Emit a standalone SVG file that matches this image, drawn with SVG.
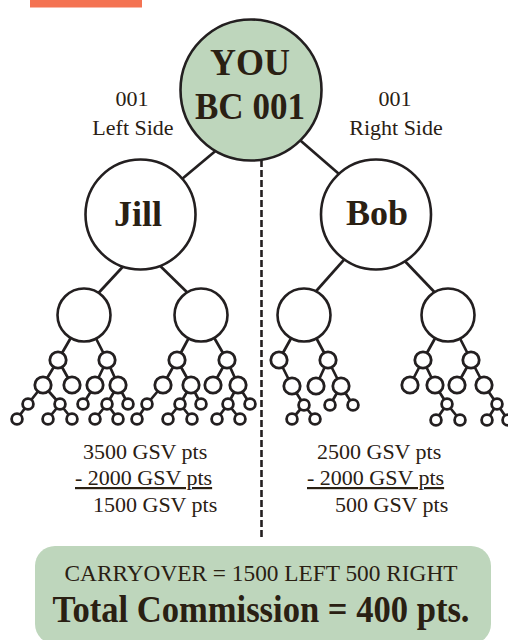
<svg xmlns="http://www.w3.org/2000/svg" width="508" height="640" viewBox="0 0 508 640">
<style>
.ln{stroke:#231f20;stroke-width:2.7;fill:none;stroke-linecap:butt}
.dash{stroke:#231f20;stroke-width:2.6;stroke-dasharray:7 3;fill:none}
.c{fill:#fff;stroke:#231f20;stroke-width:2.6}
.g{fill:#bed6bc;stroke:#231f20;stroke-width:2.6}
.s{fill:#fff;stroke:#231f20;stroke-width:2.8}
.t{font-family:"Liberation Serif","Times New Roman",serif;fill:#2a2013}
.lab{font-size:22px;text-anchor:middle}
.big{font-size:38px;font-weight:bold;text-anchor:middle}
.nm{font-size:36px;font-weight:bold;text-anchor:middle}
.num{font-size:22px}
.ul{text-decoration:underline}
</style>
<rect x="30" y="-20" width="112" height="27.5" fill="#f47352"/>

<g id="connectors">
<line class="ln" x1="225" y1="143" x2="170" y2="189"/>
<line class="ln" x1="290" y1="131.5" x2="350" y2="183.5"/>
<line class="dash" x1="261.5" y1="160" x2="261.5" y2="540"/>
<line class="ln" x1="130" y1="259" x2="92" y2="300"/>
<line class="ln" x1="150" y1="256" x2="195" y2="300"/>
<line class="ln" x1="350" y1="253" x2="310" y2="298"/>
<line class="ln" x1="400" y1="256" x2="442" y2="300"/>
<path class="ln" d="M84 315L58 360M84 315L107 360M58 360L43 385M58 360L72 385M43 385L28 404M43 385L60 404M28 404L17 419M60 404L48 419M60 404L72 419M107 360L95 385M107 360L118 385M95 385L83 404M118 385L107 404M118 385L128 404M107 404L95 419M107 404L118 419"/>
<path class="ln" d="M201 315L177 360M201 315L227 360M177 360L163 385M177 360L191 385M163 385L147 404M147 404L137 419M191 385L180 404M191 385L201 404M180 404L168 419M180 404L192 419M227 360L213 385M227 360L238 385M238 385L228 404M238 385L250 404M228 404L217 419M228 404L240 419"/>
<path class="ln" d="M304 315L279 360M304 315L328 360M279 360L292 386M292 386L304 405M304 405L292 419M304 405L315 419M328 360L316 386M328 360L341 386M341 386L330 405M341 386L353 405"/>
<path class="ln" d="M448 315L423 360M448 315L471 360M423 360L410 385M423 360L435 385M435 385L447 404M447 404L436 420M447 404L460 420M471 360L457 385M471 360L484 385M484 385L497 404M497 404L487 420M497 404L508 420"/>
</g>

<g id="you"><circle class="g" cx="251" cy="90" r="70.5"/>
<text class="t big" x="250" y="75" textLength="80" lengthAdjust="spacingAndGlyphs">YOU</text>
<text class="t big" x="250" y="119" textLength="110" lengthAdjust="spacingAndGlyphs">BC 001</text></g>

<g id="left-label"><text class="t lab" x="132" y="106">001</text><text class="t lab" x="133" y="134.5">Left Side</text></g>
<g id="right-label"><text class="t lab" x="395" y="106">001</text><text class="t lab" x="396" y="134.5">Right Side</text></g>

<g id="jill"><circle class="c" cx="140.5" cy="214.5" r="55"/><text class="t nm" x="138" y="226">Jill</text></g>
<g id="bob"><circle class="c" cx="376" cy="214.5" r="55"/><text class="t nm" x="377" y="225">Bob</text></g>

<g id="jill-left">
<circle class="c" cx="84" cy="315" r="26.5"/>
<circle class="s" cx="58" cy="360" r="8.2"/><circle class="s" cx="107" cy="360" r="8.2"/>
<circle class="s" cx="43" cy="385" r="8.2"/><circle class="s" cx="72" cy="385" r="8.2"/><circle class="s" cx="95" cy="385" r="8.2"/><circle class="s" cx="118" cy="385" r="8.2"/>
<circle class="s" cx="28" cy="404" r="5.4"/><circle class="s" cx="60" cy="404" r="5.4"/><circle class="s" cx="83" cy="404" r="5.4"/><circle class="s" cx="107" cy="404" r="5.4"/><circle class="s" cx="128" cy="404" r="5.4"/>
<circle class="s" cx="17" cy="419" r="5.4"/><circle class="s" cx="48" cy="419" r="5.4"/><circle class="s" cx="72" cy="419" r="5.4"/><circle class="s" cx="95" cy="419" r="5.4"/><circle class="s" cx="118" cy="419" r="5.4"/>
</g>
<g id="jill-right">
<circle class="c" cx="201" cy="315" r="26.5"/>
<circle class="s" cx="177" cy="360" r="8.2"/><circle class="s" cx="227" cy="360" r="8.2"/>
<circle class="s" cx="163" cy="385" r="8.2"/><circle class="s" cx="191" cy="385" r="8.2"/><circle class="s" cx="213" cy="385" r="8.2"/><circle class="s" cx="238" cy="385" r="8.2"/>
<circle class="s" cx="147" cy="404" r="5.4"/><circle class="s" cx="180" cy="404" r="5.4"/><circle class="s" cx="201" cy="404" r="5.4"/><circle class="s" cx="228" cy="404" r="5.4"/><circle class="s" cx="250" cy="404" r="5.4"/>
<circle class="s" cx="137" cy="419" r="5.4"/><circle class="s" cx="168" cy="419" r="5.4"/><circle class="s" cx="192" cy="419" r="5.4"/><circle class="s" cx="217" cy="419" r="5.4"/><circle class="s" cx="240" cy="419" r="5.4"/>
</g>
<g id="bob-left">
<circle class="c" cx="304" cy="315" r="26.5"/>
<circle class="s" cx="279" cy="360" r="8.2"/><circle class="s" cx="328" cy="360" r="8.2"/>
<circle class="s" cx="292" cy="386" r="8.2"/><circle class="s" cx="316" cy="386" r="8.2"/><circle class="s" cx="341" cy="386" r="8.2"/>
<circle class="s" cx="304" cy="405" r="5.4"/><circle class="s" cx="330" cy="405" r="5.4"/><circle class="s" cx="353" cy="405" r="5.4"/>
<circle class="s" cx="292" cy="419" r="5.4"/><circle class="s" cx="315" cy="419" r="5.4"/>
</g>
<g id="bob-right">
<circle class="c" cx="448" cy="315" r="26.5"/>
<circle class="s" cx="423" cy="360" r="8.2"/><circle class="s" cx="471" cy="360" r="8.2"/>
<circle class="s" cx="410" cy="385" r="8.2"/><circle class="s" cx="435" cy="385" r="8.2"/><circle class="s" cx="457" cy="385" r="8.2"/><circle class="s" cx="484" cy="385" r="8.2"/>
<circle class="s" cx="447" cy="404" r="5.4"/><circle class="s" cx="497" cy="404" r="5.4"/>
<circle class="s" cx="436" cy="420" r="5.4"/><circle class="s" cx="460" cy="420" r="5.4"/><circle class="s" cx="487" cy="420" r="5.4"/><circle class="s" cx="508" cy="420" r="5.4"/>
</g>

<g id="left-calc">
<text class="t num" x="83" y="459">3500 GSV pts</text>
<text class="t num ul" x="75" y="485">- 2000 GSV pts</text>
<text class="t num" x="93" y="512">1500 GSV pts</text>
</g>
<g id="right-calc">
<text class="t num" x="317" y="459">2500 GSV pts</text>
<text class="t num ul" x="307" y="485">- 2000 GSV pts</text>
<text class="t num" x="335" y="512">500 GSV pts</text>
</g>

<g id="summary">
<rect x="35" y="546" width="456" height="98" rx="20" fill="#bed6bc"/>
<text class="t" x="261" y="581" font-size="23" text-anchor="middle" textLength="393" lengthAdjust="spacingAndGlyphs">CARRYOVER = 1500 LEFT 500 RIGHT</text>
<text class="t" x="261" y="621.5" font-size="37" font-weight="bold" text-anchor="middle" textLength="417" lengthAdjust="spacingAndGlyphs">Total Commission = 400 pts.</text>
</g>
</svg>
